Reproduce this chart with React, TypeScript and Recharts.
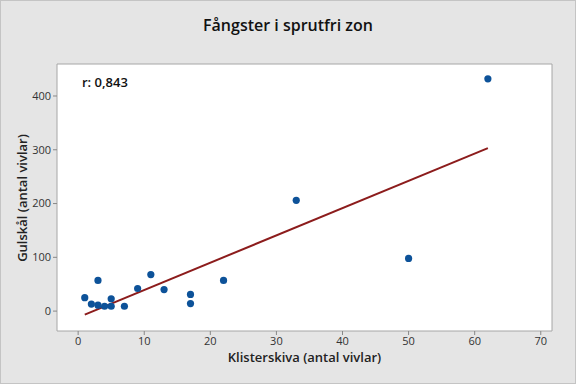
import { ScatterChart, Scatter, XAxis, YAxis, ReferenceArea, ReferenceLine } from 'recharts';

// catches: sticky board (x) vs yellow bowl (y)
const klisterskiva = [1, 2, 3, 3, 4, 5, 5, 7, 9, 11, 13, 17, 17, 22, 33, 50, 62];
const gulskal = [25, 13, 57, 11, 9, 23, 9, 9, 42, 68, 40, 31, 14, 57, 206, 98, 432];
const xTicks = [0, 10, 20, 30, 40, 50, 60, 70];
const yTicks = [0, 100, 200, 300, 400];
const rLabel = 'r: 0,843';

const points = klisterskiva.map((x, i) => ({ x, y: gulskal[i] }));

// least squares fit line through the points
function fit(xs: number[], ys: number[]) {
  const n = xs.length;
  const mx = xs.reduce((a, b) => a + b, 0) / n;
  const my = ys.reduce((a, b) => a + b, 0) / n;
  let sxy = 0;
  let sxx = 0;
  xs.forEach((x, i) => {
    sxy += (x - mx) * (ys[i] - my);
    sxx += (x - mx) * (x - mx);
  });
  const b = sxy / sxx;
  return { a: my - b * mx, b };
}

const { a, b } = fit(klisterskiva, gulskal);
const xMin = Math.min(...klisterskiva);
const xMax = Math.max(...klisterskiva);

const xDomain: [number, number] = [-3.2, 71.7];
const yDomain: [number, number] = [-37, 459.5];

const font = '"Open Sans", "Noto Sans", sans-serif';
const tickStyle = { fontSize: 11, fill: '#333', fontFamily: font };

const Dot = (props: any) => <circle cx={props.cx} cy={props.cy} r={3.6} fill="#0d5299" />;

export default function App() {
  return (
    <div style={{ position: 'absolute', left: 0, top: 0, width: 576, height: 384, background: '#e5e5e5', fontFamily: font }}>
      <ScatterChart width={576} height={384} margin={{ top: 64, right: 24, left: 0, bottom: 0 }}>
        <ReferenceArea
          x1={xDomain[0]}
          x2={xDomain[1]}
          y1={yDomain[0]}
          y2={yDomain[1]}
          fill="#fff"
          fillOpacity={1}
          stroke="#a6a6a6"
          strokeWidth={1}
          ifOverflow="visible"
        />
        <XAxis
          type="number"
          dataKey="x"
          domain={xDomain}
          ticks={xTicks}
          allowDataOverflow
          tick={tickStyle}
          tickLine={{ stroke: '#888' }}
          axisLine={false}
          tickSize={4}
          height={53}
        />
        <YAxis
          type="number"
          dataKey="y"
          domain={yDomain}
          ticks={yTicks}
          allowDataOverflow
          tick={tickStyle}
          tickLine={{ stroke: '#888' }}
          axisLine={false}
          tickSize={4}
          width={57}
        />
        <ReferenceLine
          segment={[{ x: xMin, y: a + b * xMin }, { x: xMax, y: a + b * xMax }]}
          stroke="#8c1c1c"
          strokeWidth={2}
        />
        <Scatter data={points} shape={Dot} isAnimationActive={false} />
      </ScatterChart>
      <div style={{ position: 'absolute', top: 14, left: 0, width: 576, textAlign: 'center', fontSize: 16, fontWeight: 600, color: '#111' }}>
        Fångster i sprutfri zon
      </div>
      <div style={{ position: 'absolute', top: 73, left: 82, fontSize: 13, fontWeight: 600, color: '#111' }}>{rLabel}</div>
      <div style={{ position: 'absolute', top: 348, left: 57, width: 495, textAlign: 'center', fontSize: 13, fontWeight: 600, color: '#222' }}>
        Klisterskiva (antal vivlar)
      </div>
      <div
        style={{
          position: 'absolute',
          left: 22,
          top: 198,
          transform: 'translate(-50%, -50%) rotate(-90deg)',
          whiteSpace: 'nowrap',
          fontSize: 13,
          fontWeight: 600,
          color: '#222',
        }}
      >
        Gulskål (antal vivlar)
      </div>
      <div style={{ position: 'absolute', inset: 0, border: '1px solid #c4c4c4', pointerEvents: 'none' }} />
    </div>
  );
}
